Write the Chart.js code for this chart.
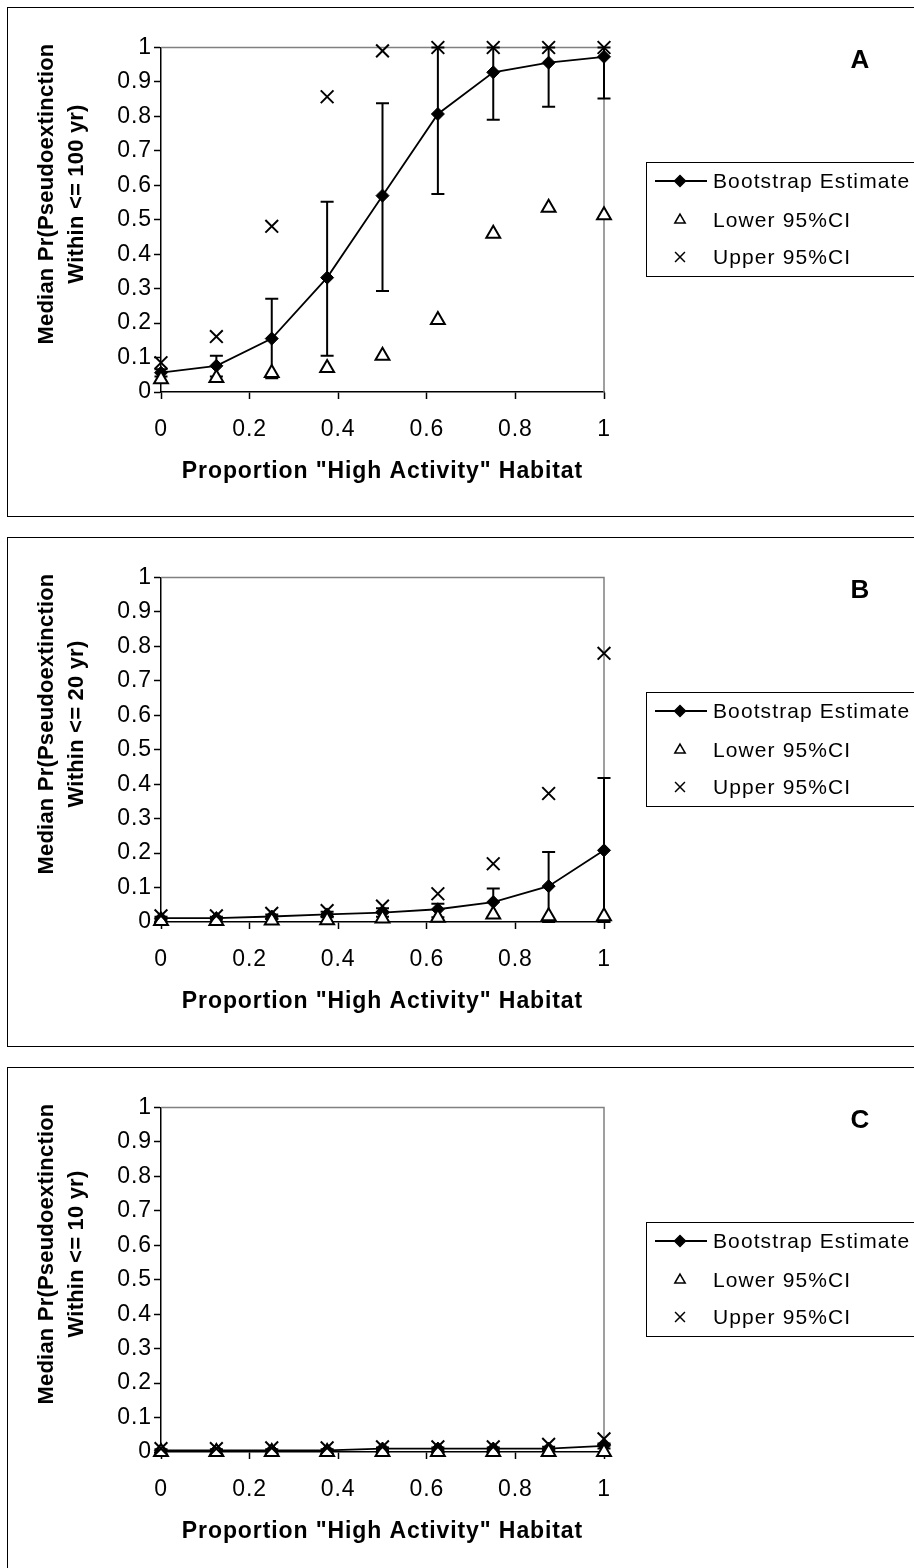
<!DOCTYPE html>
<html>
<head>
<meta charset="utf-8">
<script src="https://cdn.jsdelivr.net/npm/chart.js@4.4.1/dist/chart.umd.min.js"></script>
<style>
  html, body { margin: 0; padding: 0; background: #fff; overflow: hidden; }
  body { width: 914px; height: 1568px; position: relative; }
  .panel { position: absolute; left: 7px; width: 1000px; height: 508px; border: 1px solid #000; }
  canvas { position: absolute; left: 0; }
</style>
</head>
<body>
<div class="panel" style="top:7px"></div>
<div class="panel" style="top:537px"></div>
<div class="panel" style="top:1067px"></div>
<canvas id="graphA" width="914" height="530" style="top:0px"></canvas>
<canvas id="graphB" width="914" height="530" style="top:530px"></canvas>
<canvas id="graphC" width="914" height="530" style="top:1060px"></canvas>
<script>
// proportion of "high activity" habitat
const xValues = [0, 0.125, 0.25, 0.375, 0.5, 0.625, 0.75, 0.875, 1];
const xTicks = ["0", "0.2", "0.4", "0.6", "0.8", "1"];
const yTicks = ["0", "0.1", "0.2", "0.3", "0.4", "0.5", "0.6", "0.7", "0.8", "0.9", "1"];
const seriesNames = ["Bootstrap Estimate", "Lower 95%CI", "Upper 95%CI"];

// A: within <= 100 yr
const estA = [0.056, 0.076, 0.155, 0.332, 0.57, 0.807, 0.928, 0.956, 0.973];
const lowA = [0.037, 0.041, 0.055, 0.07, 0.105, 0.209, 0.459, 0.535, 0.513];
const upA = [0.085, 0.161, 0.481, 0.857, 0.99, 1.0, 1.0, 1.0, 1.0];
const errLoA = [0.045, 0.045, 0.04, 0.105, 0.293, 0.575, 0.79, 0.828, 0.852];
const errHiA = [0.066, 0.105, 0.271, 0.552, 0.838, 1.0, 1.0, 1.0, 1.0];

// B: within <= 20 yr
const estB = [0.011, 0.011, 0.016, 0.022, 0.027, 0.037, 0.058, 0.104, 0.208];
const lowB = [0.003, 0.003, 0.004, 0.005, 0.01, 0.012, 0.022, 0.017, 0.017];
const upB = [0.018, 0.018, 0.025, 0.033, 0.046, 0.082, 0.169, 0.373, 0.78];
const errLoB = [0.007, 0.007, 0.01, 0.014, 0.015, 0.014, 0.015, 0, 0];
const errHiB = [0.015, 0.015, 0.022, 0.03, 0.04, 0.053, 0.097, 0.203, 0.418];

// C: within <= 10 yr
const estC = [0.005, 0.005, 0.005, 0.005, 0.01, 0.01, 0.01, 0.01, 0.018];
const lowC = [0, 0, 0, 0, 0, 0, 0, 0, 0];
const upC = [0.01, 0.01, 0.012, 0.012, 0.015, 0.015, 0.015, 0.022, 0.038];
const errLoC = [0.002, 0.002, 0.002, 0.002, 0.005, 0.005, 0.005, 0.005, 0.01];
const errHiC = [0.008, 0.008, 0.008, 0.008, 0.013, 0.013, 0.013, 0.015, 0.025];

const FONT = "'Liberation Sans', Arial, sans-serif";

const panelExtras = {
  id: "panelExtras",
  beforeLayout(chart) { chart.ctx.letterSpacing = "0.9px"; },
  beforeDraw(chart) { chart.ctx.letterSpacing = "0.9px"; },
  beforeDatasetsDraw(chart, args, opts) {
    const ctx = chart.ctx, a = chart.chartArea;
    const x = chart.scales.x, y = chart.scales.y;
    ctx.save();
    // grey frame top + right
    ctx.strokeStyle = "#808080";
    ctx.lineWidth = 1.5;
    ctx.beginPath();
    ctx.moveTo(a.left, a.top);
    ctx.lineTo(a.right, a.top);
    ctx.lineTo(a.right, a.bottom);
    ctx.stroke();
    // error bars
    ctx.strokeStyle = "#000";
    ctx.lineWidth = 2;
    opts.errLow.forEach(function(lo, i) {
      const px = x.getPixelForValue(xValues[i]);
      const p1 = y.getPixelForValue(lo);
      const p2 = y.getPixelForValue(opts.errHigh[i]);
      ctx.beginPath();
      ctx.moveTo(px, p1); ctx.lineTo(px, p2);
      ctx.moveTo(px - 6.5, p1); ctx.lineTo(px + 6.5, p1);
      ctx.moveTo(px - 6.5, p2); ctx.lineTo(px + 6.5, p2);
      ctx.stroke();
    });
    ctx.restore();
  },
  afterDraw(chart, args, opts) {
    const ctx = chart.ctx;
    ctx.save();
    ctx.fillStyle = "#000";
    ctx.textAlign = "center";
    ctx.textBaseline = "middle";

    // y title, two rotated lines
    ctx.letterSpacing = "0.2px";
    ctx.font = "bold 22px " + FONT;
    ctx.save();
    ctx.translate(62, 194);
    ctx.rotate(-Math.PI / 2);
    ctx.fillText(opts.yTitle[0], 0, -15);
    ctx.fillText(opts.yTitle[1], 0, 15);
    ctx.restore();

    // panel letter
    ctx.font = "bold 26px " + FONT;
    ctx.fillText(opts.letter, 860, 61);

    // legend box
    ctx.strokeStyle = "#000";
    ctx.lineWidth = 1;
    ctx.strokeRect(646.5, 162.5, 300, 114);
    const rows = [181, 220, 257];
    const ds = chart.data.datasets;
    ctx.lineWidth = 1.8;
    ctx.beginPath();
    ctx.moveTo(655, rows[0]); ctx.lineTo(707, rows[0]);
    ctx.stroke();
    const sizes = [5.5, 6, 7];
    ds.forEach(function(d, i) {
      ctx.fillStyle = d.pointBackgroundColor;
      ctx.strokeStyle = d.pointBorderColor;
      ctx.lineWidth = 1.5;
      Chart.helpers.drawPoint(ctx, {pointStyle: d.pointStyle, radius: sizes[i], rotation: 0, borderWidth: 1.5}, 680, rows[i]);
    });
    ctx.fillStyle = "#000";
    ctx.textAlign = "left";
    ctx.letterSpacing = "1.1px";
    ctx.font = "21px " + FONT;
    seriesNames.forEach(function(name, i) {
      ctx.fillText(name, 713, rows[i] + 1);
    });
    ctx.restore();
  }
};

function make_panel(id, est, low, up, errLow, errHigh, years, letter) {
  const ctx = document.getElementById(id);
  new Chart(ctx, {
    type: "line",
    plugins: [panelExtras],
    data: {
      datasets: [{
        label: seriesNames[0],
        data: xValues.map(function(v, i) { return {x: v, y: est[i]}; }),
        borderColor: "#000",
        borderWidth: 1.8,
        pointStyle: "rectRot",
        pointRadius: 6.5,
        pointBackgroundColor: "#000",
        pointBorderColor: "#000",
        pointBorderWidth: 1,
        clip: false,
        order: 3
      }, {
        label: seriesNames[1],
        data: xValues.map(function(v, i) { return {x: v, y: low[i]}; }),
        showLine: false,
        pointStyle: "triangle",
        pointRadius: 8,
        pointBackgroundColor: "#fff",
        pointBorderColor: "#000",
        pointBorderWidth: 2,
        clip: false,
        order: 2
      }, {
        label: seriesNames[2],
        data: xValues.map(function(v, i) { return {x: v, y: up[i]}; }),
        showLine: false,
        pointStyle: "crossRot",
        pointRadius: 9,
        pointBackgroundColor: "#000",
        pointBorderColor: "#000",
        pointBorderWidth: 2,
        clip: false,
        order: 1
      }]
    },
    options: {
      responsive: false,
      animation: false,
      devicePixelRatio: 1,
      layout: { padding: { left: 0, top: 47.5, right: 310, bottom: 38 } },
      plugins: {
        legend: { display: false },
        tooltip: { enabled: false },
        panelExtras: {
          errLow: errLow,
          errHigh: errHigh,
          yTitle: ["Median Pr(Pseudoextinction", "Within <= " + years + " yr)"],
          letter: letter
        }
      },
      scales: {
        x: {
          type: "linear",
          min: 0,
          max: 1,
          ticks: {
            stepSize: 0.2,
            color: "#000",
            padding: 17,
            font: { family: FONT, size: 23 },
            callback: function(v, i) { return xTicks[i]; }
          },
          grid: { drawOnChartArea: false, tickLength: 7, tickColor: "#000", tickWidth: 1.5 },
          border: { color: "#000", width: 1.5 },
          title: {
            display: true,
            text: 'Proportion "High Activity" Habitat',
            color: "#000",
            font: { family: FONT, size: 23, weight: "bold" },
            padding: { top: 0, bottom: 7 }
          },
          afterFit: function(scale) { scale.height = 100; }
        },
        y: {
          type: "linear",
          min: 0,
          max: 1,
          ticks: {
            stepSize: 0.1,
            color: "#000",
            padding: 2,
            font: { family: FONT, size: 23 },
            callback: function(v, i) { return yTicks[i]; }
          },
          grid: { drawOnChartArea: false, tickLength: 7, tickColor: "#000", tickWidth: 1.5 },
          border: { color: "#000", width: 1.5 },
          afterFit: function(scale) { scale.width = 161; }
        }
      }
    }
  });
}

make_panel("graphA", estA, lowA, upA, errLoA, errHiA, 100, "A");
make_panel("graphB", estB, lowB, upB, errLoB, errHiB, 20, "B");
make_panel("graphC", estC, lowC, upC, errLoC, errHiC, 10, "C");
</script>
</body>
</html>
